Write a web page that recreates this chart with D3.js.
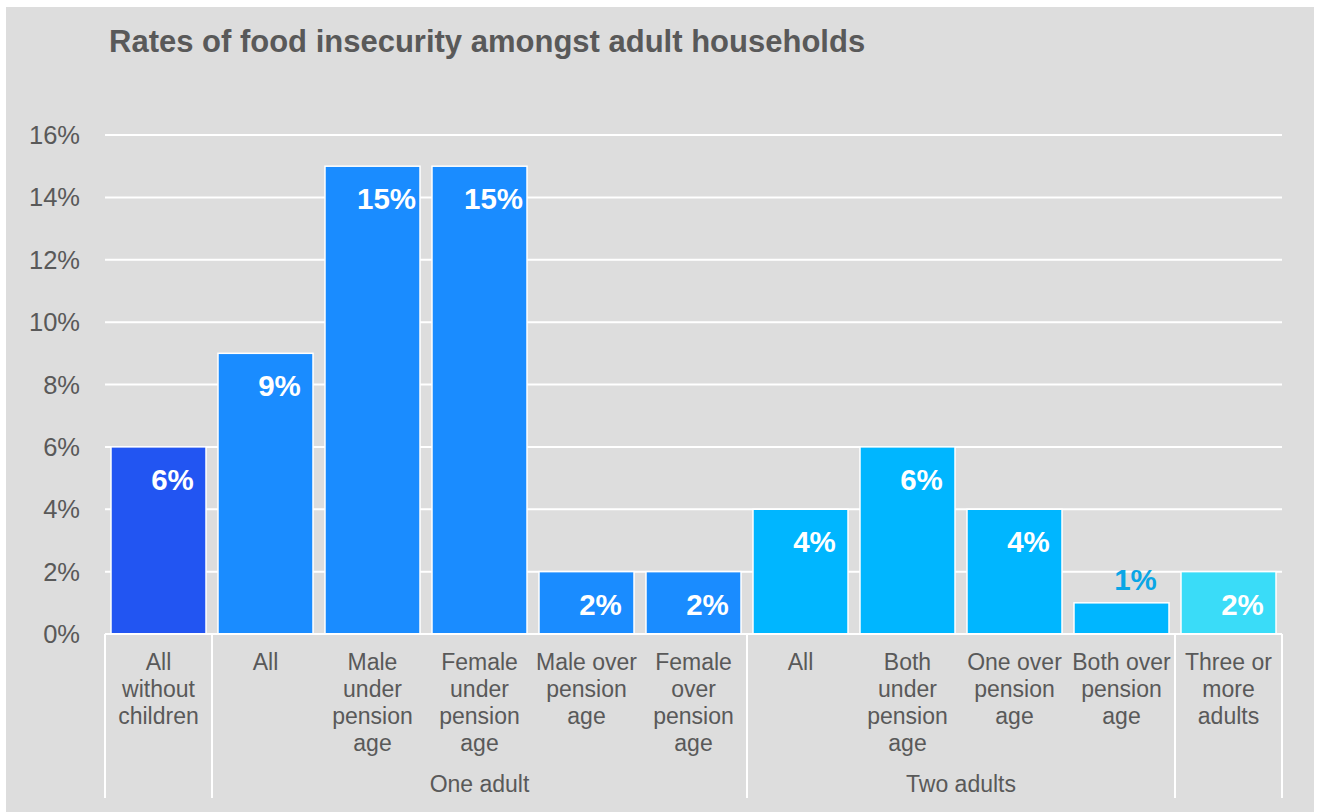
<!DOCTYPE html>
<html><head><meta charset="utf-8">
<script src="https://cdn.jsdelivr.net/npm/d3@7"></script>
<style>
html,body{margin:0;padding:0;background:#fff;}
svg{display:block;font-family:"Liberation Sans",Arial,sans-serif;}
</style></head>
<body>
<svg id="chart" width="1317" height="812"></svg>
<script>
const title = "Rates of food insecurity amongst adult households";
const categories = [
  ["All","without","children"],
  ["All"],
  ["Male","under","pension","age"],
  ["Female","under","pension","age"],
  ["Male over","pension","age"],
  ["Female","over","pension","age"],
  ["All"],
  ["Both","under","pension","age"],
  ["One over","pension","age"],
  ["Both over","pension","age"],
  ["Three or","more","adults"]
];
const values = [6, 9, 15, 15, 2, 2, 4, 6, 4, 1, 2];
const groupOf = ["none","one","one","one","one","one","two","two","two","two","three"];
const groups = [
  {key:"none", label:"", start:0, end:0},
  {key:"one", label:"One adult", start:1, end:5},
  {key:"two", label:"Two adults", start:6, end:9},
  {key:"three", label:"", start:10, end:10}
];
const yTicks = [0,2,4,6,8,10,12,14,16];
const colors = {none:"#2255f2", one:"#1a8cff", two:"#00b6ff", three:"#3adcf8"};

const svg = d3.select("#chart");
svg.append("rect").attr("x",6).attr("y",7).attr("width",1308).attr("height",805).attr("fill","#dddddd");

svg.append("text").attr("x",109).attr("y",52).attr("fill","#595959")
  .attr("font-size",31).attr("font-weight","bold").text(title);

const x = d3.scaleBand().domain(d3.range(categories.length)).range([105,1282])
  .paddingInner(0.112).paddingOuter(0.056);
const y = d3.scaleLinear().domain([0,16]).range([634,135]);

// gridlines
svg.append("g").selectAll("line").data(yTicks).join("line")
  .attr("x1",105).attr("x2",1282).attr("y1",d=>y(d)).attr("y2",d=>y(d))
  .attr("stroke","#ffffff").attr("stroke-width",2);

// y tick labels
svg.append("g").selectAll("text").data(yTicks).join("text")
  .attr("x",80).attr("y",d=>y(d)+9).attr("text-anchor","end")
  .attr("fill","#595959").attr("font-size",25.5).text(d=>d+"%");

// bars
svg.append("g").selectAll("rect").data(values).join("rect")
  .attr("x",(d,i)=>x(i)).attr("width",x.bandwidth())
  .attr("y",d=>y(d)).attr("height",d=>y(0)-y(d))
  .attr("fill",(d,i)=>colors[groupOf[i]]).attr("stroke","#ffffff").attr("stroke-width",1.5);

// value labels
svg.append("g").selectAll("text").data(values).join("text")
  .attr("x",(d,i)=>x(i)+x.bandwidth()/2+14)
  .attr("y",d=> d>=2 ? y(d)+43 : y(d)-13)
  .attr("text-anchor","middle").attr("font-weight","bold").attr("font-size",29.5)
  .attr("fill",d=> d>=2 ? "#ffffff" : "#0aa6e6")
  .text(d=>d+"%");

// axis baseline
svg.append("line").attr("x1",105).attr("x2",1282).attr("y1",y(0)).attr("y2",y(0))
  .attr("stroke","#ffffff").attr("stroke-width",2);

// group separators
const step = x.step();
const x0 = 105;
const bounds = [0];
groups.forEach(g=>bounds.push(g.end+1));
svg.append("g").selectAll("line").data(bounds).join("line")
  .attr("x1",d=>x0+d*step).attr("x2",d=>x0+d*step)
  .attr("y1",y(0)).attr("y2",798)
  .attr("stroke","#ffffff").attr("stroke-width",2);

// category labels
const cl = svg.append("g");
categories.forEach((lines,i)=>{
  const t = cl.append("text").attr("text-anchor","middle").attr("fill","#595959").attr("font-size",23)
    .attr("x",x(i)+x.bandwidth()/2).attr("y",670);
  lines.forEach((ln,j)=>{
    t.append("tspan").attr("x",x(i)+x.bandwidth()/2).attr("y",670+j*27).text(ln);
  });
});

// group labels
svg.append("g").selectAll("text").data(groups.filter(g=>g.label)).join("text")
  .attr("x",g=>x0+(g.start+ (g.end+1))/2*step).attr("y",792)
  .attr("text-anchor","middle").attr("fill","#595959").attr("font-size",23)
  .text(g=>g.label);
</script>
</body></html>
